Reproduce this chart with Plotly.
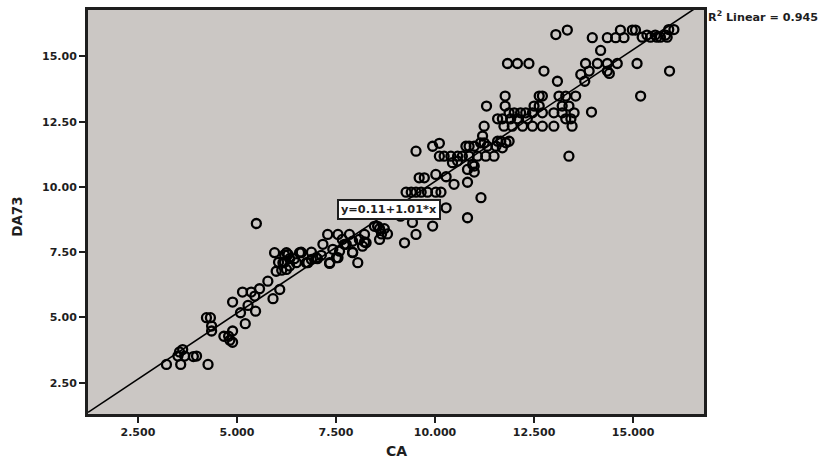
import plotly.graph_objects as go

# ---- data ----
ca = [
    3.22, 3.58, 4.27, 3.63, 3.55, 3.51, 3.68, 3.98, 3.90,
    4.23, 4.33, 4.36, 4.36, 4.67, 4.79, 4.82, 4.89, 4.89,
    4.89, 5.21, 5.09, 5.47, 5.28, 5.14, 5.36, 5.45, 5.57, 5.91, 6.08, 5.78,
    5.49,
    5.95, 5.99, 6.05, 6.13, 6.25, 6.20, 6.25, 6.33, 6.20, 6.45, 6.58, 6.62, 6.79,
    7.03, 7.17, 7.34, 7.29, 7.55, 7.51, 7.42, 7.76, 7.66, 7.84, 7.92, 8.05, 8.09,
    8.22, 8.26, 8.17,
    8.47, 8.55, 8.60, 8.65, 8.72, 8.60, 8.80, 9.23, 9.52,
    6.29, 6.62, 6.88, 7.71, 7.92, 8.22, 6.16, 6.33, 6.50, 6.75, 6.88, 7.00, 7.13,
    7.34, 7.55, 7.59, 7.92,
    13.05, 13.34,
    13.97, 14.35, 14.56, 14.77,
    14.68, 14.98, 15.06,
    15.23, 15.35, 15.44, 15.56, 15.69, 15.82, 15.86, 15.90, 16.03, 15.60,
    14.18,
    11.83, 12.08, 12.37,
    12.75, 13.09,
    13.80, 14.10, 14.35, 14.60,
    13.68, 13.89, 13.78, 14.35, 14.40,
    15.10, 15.92, 15.19, 13.95,
    11.77, 12.63, 12.71, 13.13, 13.30, 13.55,
    11.30, 11.77, 12.50, 12.63, 13.21, 13.38,
    11.87, 12.00, 12.16, 12.29, 12.46, 12.71, 13.00, 13.21, 13.51,
    11.58, 11.70, 11.91, 12.08, 12.33, 13.30, 13.43,
    11.24, 11.74, 11.95, 12.21, 12.46, 12.71, 13.00, 13.46,
    13.38,
    11.20, 11.24, 11.15,
    11.58, 11.66, 11.79, 11.87,
    10.78, 10.86, 10.99, 11.32, 11.54, 11.70,
    9.94, 10.11, 9.52,
    10.11, 10.23, 10.40, 10.57, 10.69, 10.86, 11.07, 11.28, 11.49,
    10.44, 10.57, 10.95, 10.99, 10.82, 10.99,
    9.60, 9.73, 10.02, 10.28, 10.48, 10.82,
    11.16, 10.82,
    9.27, 9.40, 9.52, 9.65, 9.81, 10.02, 10.15,
    10.28, 9.43, 9.94, 9.13,
]
da73 = [
    3.20, 3.20, 3.20, 3.77, 3.68, 3.52, 3.52, 3.52, 3.50,
    4.99, 4.99, 4.67, 4.48, 4.28, 4.28, 4.13, 4.05, 4.48,
    5.59, 4.76, 5.18, 5.24, 5.46, 5.97, 5.97, 5.82, 6.10, 5.72, 6.07, 6.39,
    8.60,
    7.48, 6.77, 7.11, 6.81, 6.84, 7.11, 7.48, 7.25, 7.40, 7.25, 7.48, 7.48, 7.10,
    7.25, 7.80, 7.10, 8.18, 8.18, 7.29, 7.61, 7.80, 7.99, 8.18, 7.48, 7.10, 7.99,
    8.18, 7.86, 7.73,
    8.49, 8.49, 8.40, 8.20, 8.40, 7.99, 8.20, 7.86, 8.18,
    7.41, 7.50, 7.50, 7.80, 7.92, 7.89, 7.10, 6.97, 7.10, 7.10, 7.22, 7.29, 7.38,
    7.07, 7.29, 7.54, 7.50,
    15.84, 16.01,
    15.72, 15.72, 15.72, 15.72,
    16.01, 16.01, 16.01,
    15.74, 15.82, 15.74, 15.82, 15.74, 15.82, 15.74, 16.03, 16.03, 15.74,
    15.23,
    14.73, 14.73, 14.73,
    14.44, 14.05,
    14.73, 14.73, 14.73, 14.73,
    14.31, 14.44, 14.05, 14.44, 14.35,
    14.73, 14.44, 13.48, 12.87,
    13.48, 13.48, 13.48, 13.48, 13.48, 13.48,
    13.10, 13.10, 13.10, 13.10, 13.10, 13.10,
    12.84, 12.84, 12.84, 12.84, 12.84, 12.84, 12.84, 12.84, 12.84,
    12.61, 12.61, 12.61, 12.61, 12.61, 12.61, 12.61,
    12.33, 12.33, 12.33, 12.33, 12.33, 12.33, 12.33, 12.33,
    11.18,
    11.95, 11.69, 11.69,
    11.75, 11.75, 11.69, 11.75,
    11.56, 11.56, 11.56, 11.56, 11.56, 11.50,
    11.56, 11.67, 11.37,
    11.18, 11.18, 11.18, 11.18, 11.18, 11.18, 11.18, 11.18, 11.18,
    10.93, 10.99, 10.86, 10.80, 10.67, 10.57,
    10.35, 10.35, 10.48, 10.39, 10.10, 10.18,
    9.59, 8.82,
    9.80, 9.80, 9.80, 9.80, 9.80, 9.80, 9.80,
    9.20, 8.64, 8.50, 8.88,
]

intercept = 0.11
slope = 1.01
r2 = 0.945
x_title = "CA"
y_title = "DA73"
x_range = [1.24, 16.79]
y_range = [1.30, 16.78]
x_ticks = [2.5, 5.0, 7.5, 10.0, 12.5, 15.0]
y_ticks = [2.5, 5.0, 7.5, 10.0, 12.5, 15.0]

fit_x = [x_range[0], x_range[1]]
fit_y = [intercept + slope * v for v in fit_x]

FONT = "DejaVu Sans, sans-serif"
INK = "#1e1e1e"

fig = go.Figure()
fig.add_trace(go.Scatter(
    x=fit_x, y=fit_y, mode="lines",
    line=dict(color="black", width=1.6), hoverinfo="skip", showlegend=False))
fig.add_trace(go.Scatter(
    x=ca, y=da73, mode="markers",
    marker=dict(symbol="circle-open", size=9, color="black", line=dict(width=2.3, color="black")),
    showlegend=False))

# equation label on the fit line
fig.add_annotation(
    x=8.85, y=9.12, xref="x", yref="y",
    text=f"<b>y={intercept}+{slope}*x</b>", showarrow=False,
    font=dict(family=FONT, size=11.3, color=INK),
    bgcolor="white", bordercolor=INK, borderwidth=2, borderpad=2)

# R² label outside top-right corner
fig.add_annotation(
    x=1.003, y=0.985, xref="paper", yref="paper",
    xanchor="left", yanchor="middle",
    text=f"<b>R<sup>2</sup> Linear = {r2}</b>", showarrow=False,
    font=dict(family=FONT, size=11.2, color=INK))

# axis titles
fig.add_annotation(
    x=0.5, y=-0.0916, xref="paper", yref="paper",
    xanchor="center", yanchor="middle",
    text=f"<b>{x_title}</b>", showarrow=False,
    font=dict(family=FONT, size=14, color=INK))
fig.add_annotation(
    x=-0.1144, y=0.487, xref="paper", yref="paper",
    xanchor="center", yanchor="middle", textangle=-90,
    text=f"<b>{y_title}</b>", showarrow=False,
    font=dict(family=FONT, size=13.5, color=INK))

axis_common = dict(
    showgrid=False, zeroline=False, showline=True, mirror=True, automargin=False,
    linecolor=INK, linewidth=3, ticks="outside", ticklen=6, tickwidth=2,
    tickcolor=INK,
    tickfont=dict(family=FONT, size=11, color=INK, weight="bold"),
)

fig.update_xaxes(range=x_range, tickvals=x_ticks, tickformat=".3f", **axis_common)
fig.update_yaxes(range=y_range, tickvals=y_ticks, tickformat=".2f", **axis_common)

fig.update_layout(
    width=820, height=459,
    margin=dict(l=88, r=116, t=10, b=45),
    plot_bgcolor="#cbc7c4", paper_bgcolor="white",
)

fig.write_html(
    "out.html",
    config={"displayModeBar": False},
    post_script="document.body.style.margin='0';document.body.style.overflow='hidden';",
)
